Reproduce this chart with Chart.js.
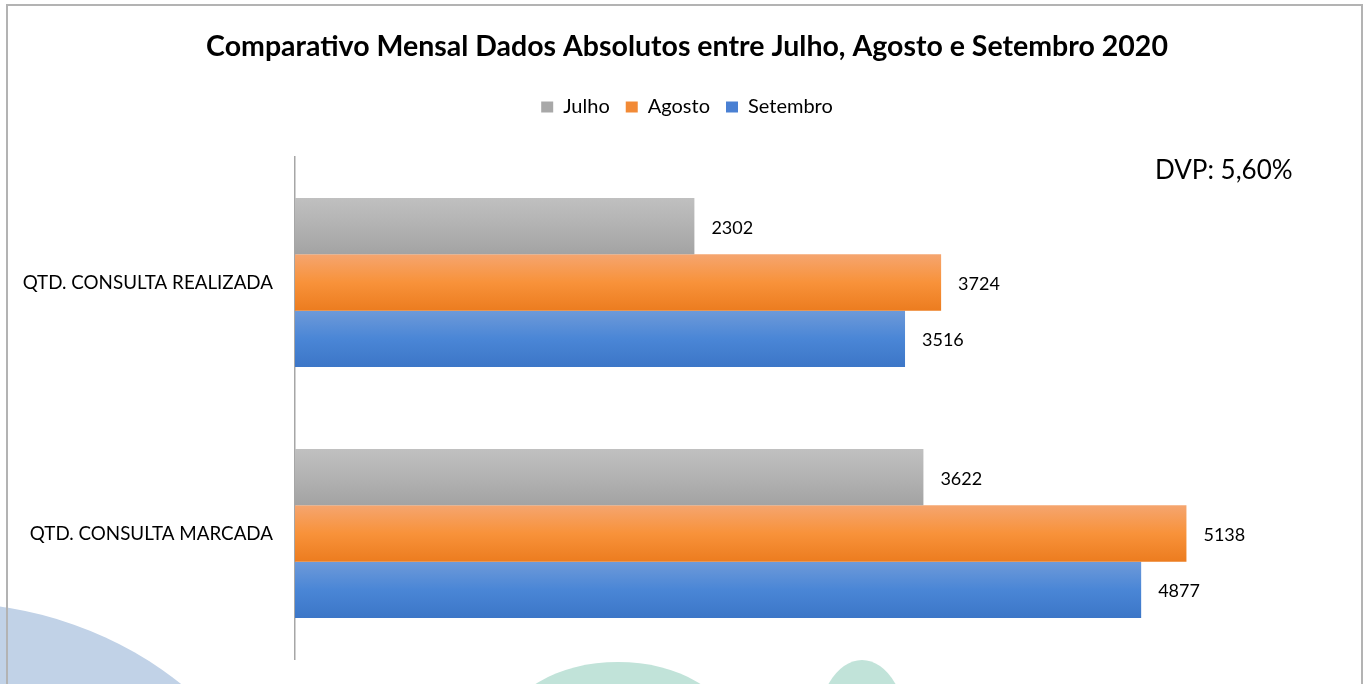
<!DOCTYPE html>
<html lang="pt-BR">
<head>
<meta charset="utf-8">
<title>Comparativo Mensal</title>
<script src="https://cdn.jsdelivr.net/npm/chart.js@4.4.0/dist/chart.umd.min.js"></script>
<style>
  html, body { margin: 0; padding: 0; background: #fff; }
  #wrap { position: relative; width: 1369px; height: 684px; overflow: hidden; }
  canvas { display: block; }
</style>
</head>
<body>
<div id="wrap"><canvas id="grafico" width="1369" height="684"></canvas></div>
<script>
const TITULO = 'Comparativo Mensal Dados Absolutos entre Julho, Agosto e Setembro 2020';
const NOTA = 'DVP: 5,60%';

const categorias = ['QTD. CONSULTA REALIZADA', 'QTD. CONSULTA MARCADA'];
const meses = ['Julho', 'Agosto', 'Setembro'];
const julho = [2302, 3622];
const agosto = [3724, 5138];
const setembro = [3516, 4877];
const eixoMax = 6000;

const CAT_PCT = 0.673;
const FONTE = 'Lato, "Open Sans", sans-serif';

// gradientes verticais de cada barra (topo -> base)
const coresJulho = [[0, '#c0c0c0'], [0.5, '#b2b2b2'], [1, '#a3a3a3']];
const coresAgosto = [[0, '#f5a56f'], [0.5, '#f8923a'], [1, '#ec7c1f']];
const coresSetembro = [[0, '#6e9ad9'], [0.5, '#4a86d6'], [1, '#3c76c7']];
const coresLegenda = ['#a8a8a8', '#f28a36', '#4a80d3'];

function gradiente(stops) {
    return (c) => {
        const chart = c.chart;
        const y = chart.scales.y;
        if (!y || !chart.chartArea || c.dataIndex === undefined) return stops[1][1];
        const catH = (y.bottom - y.top) / categorias.length;
        const grupo = catH * CAT_PCT;
        const barH = grupo / meses.length;
        const topo = y.getPixelForValue(c.dataIndex) - grupo / 2 + c.datasetIndex * barH;
        const g = chart.ctx.createLinearGradient(0, topo, 0, topo + barH);
        stops.forEach(([p, cor]) => g.addColorStop(p, cor));
        return g;
    };
}

// fundo: marca d'agua e moldura
const fundoPlugin = {
    id: 'fundo',
    beforeDraw(chart) {
        const ctx = chart.ctx;
        ctx.save();
        ctx.fillStyle = '#ffffff';
        ctx.fillRect(0, 0, chart.width, chart.height);
        ctx.fillStyle = '#c1d2e7';
        ctx.beginPath();
        ctx.ellipse(-60, 900, 350, 298, 0, 0, Math.PI * 2);
        ctx.fill();
        ctx.fillStyle = '#c1e3d9';
        ctx.beginPath();
        ctx.ellipse(618, 730, 112, 68, 0, 0, Math.PI * 2);
        ctx.fill();
        ctx.beginPath();
        ctx.ellipse(862, 740, 47, 80, 0, 0, Math.PI * 2);
        ctx.fill();
        ctx.strokeStyle = '#b3b3b3';
        ctx.lineWidth = 2;
        ctx.strokeRect(7, 5, 1355, 900);
        ctx.restore();
    },
    afterDraw(chart) {
        const ctx = chart.ctx;
        const area = chart.chartArea;
        ctx.save();
        ctx.font = '26px ' + FONTE;
        ctx.fillStyle = '#000';
        ctx.textAlign = 'left';
        ctx.textBaseline = 'middle';
        ctx.fillText(NOTA, area.right - 181, area.top + 14);
        ctx.restore();
    }
};

const rotulosPlugin = {
    id: 'rotulos',
    afterDatasetsDraw(chart) {
        const ctx = chart.ctx;
        ctx.save();
        ctx.font = '18px ' + FONTE;
        ctx.fillStyle = '#000';
        ctx.textAlign = 'left';
        ctx.textBaseline = 'middle';
        chart.data.datasets.forEach((ds, i) => {
            chart.getDatasetMeta(i).data.forEach((bar, j) => {
                ctx.fillText(String(ds.data[j]), bar.x + 17, bar.y + 1.5);
            });
        });
        ctx.restore();
    }
};

new Chart(document.getElementById('grafico'), {
    type: 'bar',
    data: {
        labels: categorias,
        datasets: [
            { label: meses[0], data: julho, backgroundColor: gradiente(coresJulho) },
            { label: meses[1], data: agosto, backgroundColor: gradiente(coresAgosto) },
            { label: meses[2], data: setembro, backgroundColor: gradiente(coresSetembro) }
        ]
    },
    options: {
        indexAxis: 'y',
        responsive: false,
        animation: false,
        devicePixelRatio: 1,
        categoryPercentage: CAT_PCT,
        barPercentage: 1,
        layout: { padding: { top: 20, left: 38, right: 33, bottom: 25 } },
        scales: {
            x: {
                type: 'linear',
                position: 'top',
                min: 0,
                max: eixoMax,
                grid: { display: false },
                border: { display: false },
                ticks: { display: false },
                afterFit: (s) => { s.height = 30; }
            },
            y: {
                grid: { display: false, drawTicks: false },
                border: { display: true, color: '#a6a6a6', width: 1.5 },
                ticks: { color: '#000', padding: 22, font: { family: FONTE, size: 18.8 } },
                afterFit: (s) => {
                    s.width = 257;
                    s.paddingTop = 0;
                    s.paddingBottom = 0;
                    // os rótulos passam da margem esquerda: não recortar
                    s._computeLabelArea = () => undefined;
                }
            }
        },
        plugins: {
            title: {
                display: true,
                text: TITULO,
                color: '#000',
                font: { family: FONTE, size: 28.5, weight: 'bold' },
                padding: { top: 10, bottom: 16.8 }
            },
            legend: {
                position: 'top',
                labels: {
                    color: '#000',
                    boxWidth: 12,
                    boxHeight: 11,
                    padding: 16,
                    font: { family: FONTE, size: 20 },
                    generateLabels: (chart) => Chart.defaults.plugins.legend.labels.generateLabels(chart)
                        .map((it, i) => Object.assign(it, { fillStyle: coresLegenda[i], strokeStyle: 'rgba(0,0,0,0)', lineWidth: 0 }))
                }
            },
            tooltip: { enabled: false }
        }
    },
    plugins: [fundoPlugin, rotulosPlugin]
});
</script>
</body>
</html>
